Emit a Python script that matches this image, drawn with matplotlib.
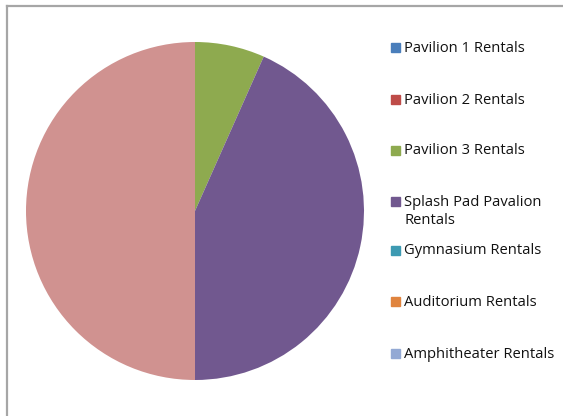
import matplotlib.pyplot as plt
from matplotlib.patches import Rectangle
from matplotlib.lines import Line2D

labels = ["Pavilion 1 Rentals", "Pavilion 2 Rentals", "Pavilion 3 Rentals",
          "Splash Pad Pavalion\nRentals", "Gymnasium Rentals",
          "Auditorium Rentals", "Amphitheater Rentals", "Total"]
values = [0, 0, 2, 13, 0, 0, 0, 15]
shown_colors = ["#4A7EBB", "#BE4B48", "#8EAA4F", "#71588F", "#3D9AB2",
                "#E0843E", "#93A9D4", "#D09290"]
legend_y = [48, 100, 151, 202, 251, 302, 354]

W, H = 563, 416
fig = plt.figure(figsize=(W / 100, H / 100), dpi=100)

ax = fig.add_axes([(195 - 169) / W, (H - 211 - 169) / H, 338 / W, 338 / H])
ax.pie(values, colors=shown_colors, startangle=90, counterclock=False,
       wedgeprops=dict(linewidth=0))
ax.set_xlim(-1, 1)
ax.set_ylim(-1, 1)
ax.axis("off")

# chart border (grey, partly cut off)
fig.add_artist(Line2D([6.5 / W, 1], [1 - 5.5 / H, 1 - 5.5 / H], color="#a6a6a6", lw=1.6))
fig.add_artist(Line2D([6.5 / W, 6.5 / W], [0, 1 - 5.5 / H], color="#a6a6a6", lw=1.6))

for lab, c, y in zip(labels[:7], shown_colors[:7], legend_y):
    fig.add_artist(Rectangle((391 / W, 1 - (y + 4) / H), 9 / W, 9 / H,
                             color=c, transform=fig.transFigure))
    lines = lab.split("\n")
    for k, line in enumerate(lines):
        fig.text(404 / W, 1 - (y + 18 * k) / H, line, fontsize=10.6,
                 family="Open Sans", va="center", ha="left", color="#111111")

fig.savefig("out.png", dpi=100)
